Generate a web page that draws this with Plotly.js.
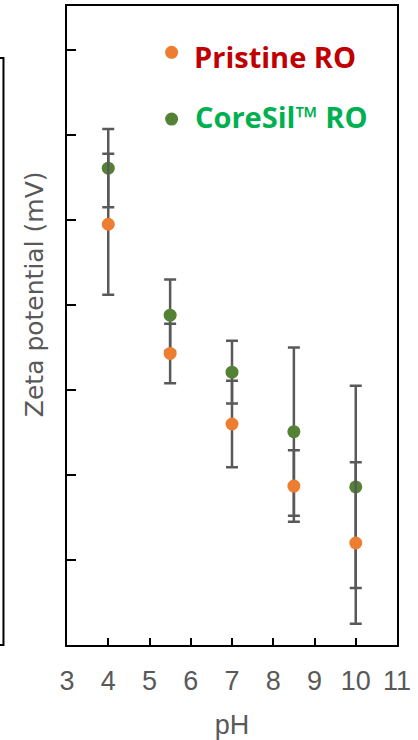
<!DOCTYPE html>
<html>
<head>
<meta charset="utf-8">
<script src="https://cdn.plot.ly/plotly-3.0.1.min.js"></script>
<style>html,body{margin:0;padding:0;background:#fff;}#chart{width:418px;height:740px;}</style>
</head>
<body>
<div id="chart"></div>
<script>
// Data (zeta potential, mV; y tick labels not shown in the source)
const pH = [4, 5.5, 7, 8.5, 10];
const pristineZeta = [-20.5, -35.7, -44.0, -51.3, -58.0];
const pristineErr  = [8.3, 3.5, 5.1, 4.2, 9.5];
const coresilZeta  = [-13.9, -31.2, -37.9, -44.9, -51.4];
const coresilErr   = [4.6, 4.2, 3.7, 9.9, 11.9];
const seriesNames  = ["Pristine RO", "CoreSil\u2122 RO"];
const xTicks = [3, 4, 5, 6, 7, 8, 9, 10, 11];
const yTitle = "Zeta potential (mV)";

const gray = "#595959";
const font = "Liberation Sans, Arial, sans-serif";

const traces = [
  {
    x: pH, y: coresilZeta, type: "scatter", mode: "markers", name: seriesNames[1],
    marker: {color: "#548235", size: 13},
    error_y: {type: "data", array: coresilErr, visible: true, color: gray, thickness: 2.5, width: 6},
    showlegend: false
  },
  {
    x: pH, y: pristineZeta, type: "scatter", mode: "markers", name: seriesNames[0],
    marker: {color: "#ED7D31", size: 13},
    error_y: {type: "data", array: pristineErr, visible: true, color: gray, thickness: 2.5, width: 6},
    showlegend: false
  }
];

const layout = {
  width: 418, height: 740,
  margin: {l: 67, r: 21, t: 6, b: 95},
  paper_bgcolor: "#fff", plot_bgcolor: "#fff",
  showlegend: false,
  xaxis: {
    range: [3, 11], tickvals: xTicks, ticktext: xTicks.map(String),
    ticks: "inside", ticklen: 7, tickwidth: 2, tickcolor: "#000",
    showline: true, linecolor: "#000", linewidth: 2, mirror: true,
    showgrid: false, zeroline: false,
    tickfont: {family: font, size: 27, color: gray},
    ticklabelstandoff: 11,
    title: {text: "pH", font: {family: font, size: 27, color: gray}, standoff: 20}
  },
  yaxis: {
    range: [-70, 5.18], tick0: 0, dtick: 10,
    ticks: "inside", ticklen: 9, tickwidth: 2, tickcolor: "#000",
    showline: true, linecolor: "#000", linewidth: 2, mirror: true,
    showgrid: false, zeroline: false, showticklabels: false
  },
  shapes: [
    {type: "path", xref: "paper", yref: "paper",
     path: "M -0.203,0.9186 L -0.1925,0.9186 L -0.1925,0 L -0.203,0",
     line: {color: "#000", width: 2}},
    {type: "circle", xref: "paper", yref: "paper", xsizemode: "pixel", ysizemode: "pixel",
     xanchor: 0.317, yanchor: 0.9275, x0: -6.5, x1: 6.5, y0: -6.5, y1: 6.5,
     fillcolor: "#ED7D31", line: {width: 0}},
    {type: "circle", xref: "paper", yref: "paper", xsizemode: "pixel", ysizemode: "pixel",
     xanchor: 0.317, yanchor: 0.823, x0: -6.5, x1: 6.5, y0: -6.5, y1: 6.5,
     fillcolor: "#548235", line: {width: 0}}
  ],
  annotations: [
    {xref: "paper", yref: "paper", x: 0.380, y: 0.921, xanchor: "left", yanchor: "middle",
     text: "<b>" + seriesNames[0] + "</b>", showarrow: false,
     font: {family: "Open Sans, Noto Sans, sans-serif", size: 29, color: "#C00000"}},
    {xref: "paper", yref: "paper", x: 0.383, y: 0.827, xanchor: "left", yanchor: "middle",
     text: "<b>" + seriesNames[1] + "</b>", showarrow: false,
     font: {family: "Open Sans, Noto Sans, sans-serif", size: 29, color: "#00B050"}},
    {xref: "paper", yref: "paper", x: -0.098, y: 0.5485, xanchor: "center", yanchor: "middle",
     textangle: -90, text: yTitle, showarrow: false,
     font: {family: "DejaVu Sans, sans-serif", size: 25, color: gray}}
  ]
};

Plotly.newPlot("chart", traces, layout, {displayModeBar: false, staticPlot: true});
</script>
</body>
</html>
